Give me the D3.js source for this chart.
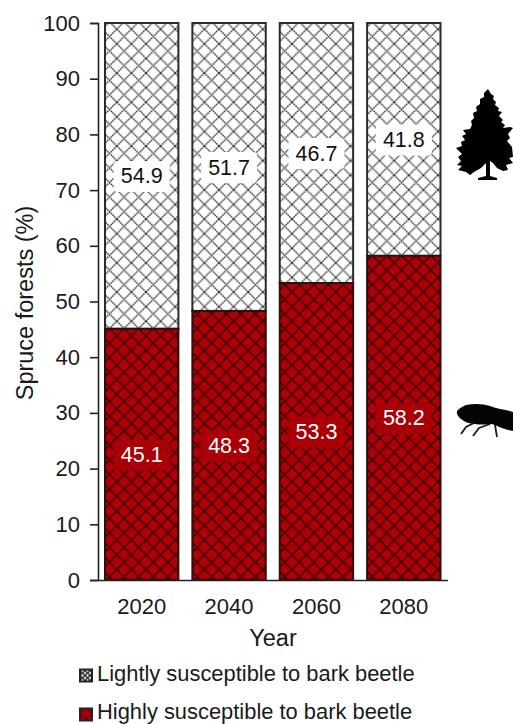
<!DOCTYPE html>
<html>
<head>
<meta charset="utf-8">
<script src="https://cdn.jsdelivr.net/npm/d3@7"></script>
<style>
  html, body { margin: 0; padding: 0; background: #fff; }
  svg { display: block; }
  text { font-family: "Liberation Sans", Arial, sans-serif; fill: #1a1a1a; }
</style>
</head>
<body>
<svg id="chart" width="513" height="724"></svg>
<script>
// values
const years = ["2020", "2040", "2060", "2080"];
const highly = [45.1, 48.3, 53.3, 58.2];
const lightly = [54.9, 51.7, 46.7, 41.8];
const yTicks = [0, 10, 20, 30, 40, 50, 60, 70, 80, 90, 100];
const legendLabels = ["Lightly susceptible to bark beetle", "Highly susceptible to bark beetle"];

const svg = d3.select("#chart");
const x = d3.scaleBand().domain(years).range([98, 447.5]).paddingInner(0.16).paddingOuter(0.08);
const y = d3.scaleLinear().domain([0, 100]).range([580, 23]);

// hatch fills
const defs = svg.append("defs");
function addHatch(id, size, bg, stroke, width, dash) {
    const p = defs.append("pattern")
        .attr("id", id)
        .attr("patternUnits", "userSpaceOnUse")
        .attr("width", size)
        .attr("height", size);
    p.append("rect").attr("width", size).attr("height", size).attr("fill", bg);
    p.append("path")
        .attr("d", `M0,0L${size},${size}M${size},0L0,${size}`)
        .attr("stroke", stroke)
        .attr("stroke-width", width)
        .attr("stroke-dasharray", dash);
}
addHatch("lightHatch", 14.6, "#fff", "#3c3c3c", 1.5, "1.8 0.6");
addHatch("darkHatch", 14.6, "#b00006", "#4a0004", 1.7, null);
addHatch("lightSwatch", 5, "#fff", "#222", 1.3, null);
addHatch("darkSwatch", 12, "#a80006", "#5a0004", 1, null);

// bars
svg.append("g").selectAll("rect")
    .data(years)
    .join("rect")
    .attr("x", d => x(d))
    .attr("width", x.bandwidth())
    .attr("y", y(100))
    .attr("height", (d, i) => y(highly[i]) - y(100))
    .attr("fill", "url(#lightHatch)")
    .attr("stroke", "#2b2b2b")
    .attr("stroke-width", 2);

svg.append("g").selectAll("rect")
    .data(years)
    .join("rect")
    .attr("x", d => x(d))
    .attr("width", x.bandwidth())
    .attr("y", (d, i) => y(highly[i]))
    .attr("height", (d, i) => y(0) - y(highly[i]))
    .attr("fill", "url(#darkHatch)")
    .attr("stroke", "#2b1010")
    .attr("stroke-width", 2);

// axes
const yAxis = svg.append("g")
    .attr("transform", `translate(${x.range()[0]},0)`)
    .call(d3.axisLeft(y).tickValues(yTicks).tickSize(8).tickPadding(10));
const xAxis = svg.append("g")
    .attr("transform", `translate(0,${y(0)})`)
    .call(d3.axisBottom(x).tickSize(0).tickPadding(18));
[yAxis, xAxis].forEach(g => {
    g.selectAll("text").style("font-size", "22px").attr("fill", "#1a1a1a");
    g.selectAll("path, line").attr("stroke", "#222").attr("stroke-width", 1.6);
});

svg.append("text")
    .attr("transform", "translate(33,303) rotate(-90)")
    .attr("text-anchor", "middle")
    .style("font-size", "23.5px")
    .text("Spruce forests (%)");

svg.append("text")
    .attr("x", 273)
    .attr("y", 646)
    .attr("text-anchor", "middle")
    .style("font-size", "23.5px")
    .text("Year");

// value labels sitting on a small backing box
function addLabels(values, base, bg, color) {
    const g = svg.append("g").selectAll("g")
        .data(years)
        .join("g")
        .attr("transform", (d, i) => `translate(${x(d) + x.bandwidth() / 2},${y(base[i] + values[i] / 2)})`);
    g.append("rect")
        .attr("x", -28)
        .attr("y", -15)
        .attr("width", 56)
        .attr("height", 31)
        .attr("rx", 4)
        .attr("fill", bg);
    g.append("text")
        .attr("text-anchor", "middle")
        .attr("dy", "0.35em")
        .style("font-size", "21.5px")
        .style("fill", color)
        .text((d, i) => values[i].toFixed(1));
}
addLabels(lightly, highly, "#fff", "#111");
addLabels(highly, highly.map(() => 0), "#a80006", "#fff");

// legend
const legend = svg.append("g").selectAll("g")
    .data(legendLabels)
    .join("g")
    .attr("transform", (d, i) => `translate(80,${675.5 + i * 38})`);
legend.append("rect")
    .attr("x", 0)
    .attr("y", (d, i) => i ? -5 : -6)
    .attr("width", 12)
    .attr("height", 12)
    .attr("fill", (d, i) => i ? "url(#darkSwatch)" : "url(#lightSwatch)")
    .attr("stroke", "#222")
    .attr("stroke-width", 2);
legend.append("text")
    .attr("x", 17)
    .attr("dy", "0.25em")
    .style("font-size", "21.9px")
    .text(d => d);

// spruce silhouette
const tree = svg.append("g").attr("fill", "#000");
tree.append("path").attr("d",
    "M488,89 L491,94 L494,96 L493,99 L496,102 L495,105 L499,108 L498,111 L502,112 L499,116 L503,120 " +
    "L501,122 L505,125 L503,128 L510,127 L513,128 L508,134 L510,138 L507,141 L512,147 L513,157 L509,158 " +
    "L513,163 L506,165 L508,170 L503,171 L497,168 L493,163 L490,161 L490,176 L497,178 L497,180 " +
    "L478,180 L478,178 L486,176 L486,163 L481,168 L474,172 L470,175 L466,172 L458,170 L462,166 L457,165 " +
    "L461,161 L458,157 L462,154 L456,148 L462,146 L461,142 L465,140 L462,136 L466,134 L463,130 L470,129 " +
    "L472,125 L471,121 L474,118 L473,113 L477,111 L476,107 L480,104 L480,99 L484,97 L484,93 Z");

// bark beetle silhouette
const beetle = svg.append("g");
beetle.append("path").attr("fill", "#050505").attr("d",
    "M466,405 C474,403 484,404 490,406 C496,409 504,409 513,412 L513,431 C507,430 499,427 492,424 " +
    "C482,425 470,425 464,421 C458,418 455,412 458,410 C460,408 463,406 466,405 Z");
beetle.append("path").attr("fill", "none").attr("stroke", "#1a1a1a").attr("stroke-width", 1.8).attr("d",
    "M474,423 L466,427 L461,434 M490,424 L479,428 L473,436 M495,425 L497,437");
</script>
</body>
</html>
